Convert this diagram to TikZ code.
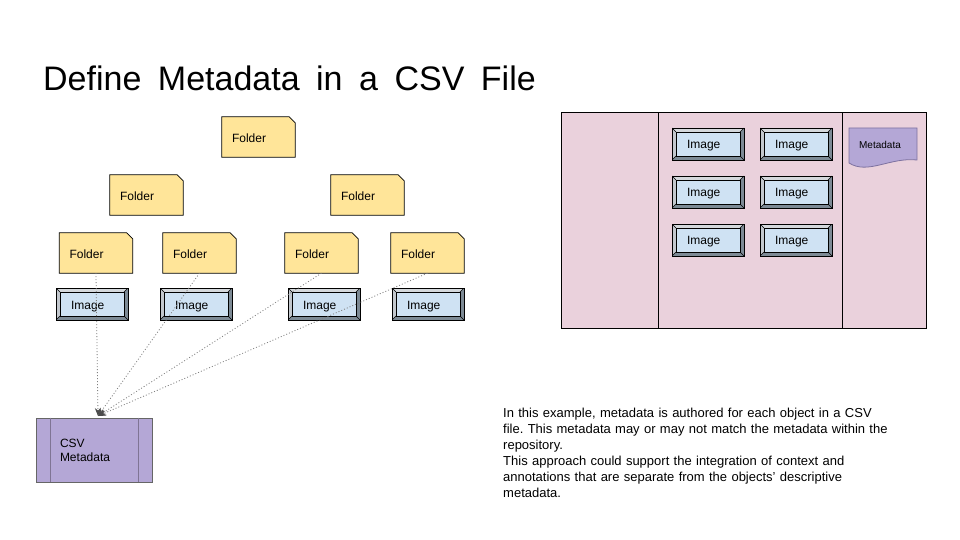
\documentclass[tikz,border=0pt]{standalone}
\usepackage{fontspec}
\setmainfont{Liberation Sans}
\usetikzlibrary{arrows.meta,backgrounds}
\definecolor{folderfill}{HTML}{FFE599}
\definecolor{imgfill}{HTML}{CFE2F3}
\definecolor{bevlight}{HTML}{D4D8DC}
\definecolor{bevdark}{HTML}{7D8A95}
\definecolor{pinkfill}{HTML}{EAD1DC}
\definecolor{purplefill}{HTML}{B4A7D6}
\definecolor{docborder}{HTML}{7E72A0}
\definecolor{csvline}{HTML}{7F7494}
\tikzset{
  txt/.style={font=\fontsize{12}{14}\selectfont, text=black},
  folderbox/.style={txt, rectangle, minimum width=73pt, minimum height=40pt,
    text width=53pt, inner xsep=10pt, inner ysep=0pt, align=left,
    text height=10.4pt, text depth=0pt},
  folderedge/.style={draw=black, line width=0.8pt, fill=folderfill},
  imagebox/.style={txt, rectangle, draw=black, line width=0.9pt, fill=bevdark,
    minimum width=72pt, minimum height=32pt, text width=42pt, inner xsep=15pt,
    inner ysep=0pt, align=left, text height=10pt, text depth=0pt,
    path picture={
      \fill[bevlight] (path picture bounding box.north west) -- (path picture bounding box.north east)
        -- ([xshift=-4pt,yshift=-4pt]path picture bounding box.north east)
        -- ([xshift=4pt,yshift=-4pt]path picture bounding box.north west) -- cycle;
      \fill[bevlight!80!bevdark] (path picture bounding box.north west) -- (path picture bounding box.south west)
        -- ([xshift=4pt,yshift=4pt]path picture bounding box.south west)
        -- ([xshift=4pt,yshift=-4pt]path picture bounding box.north west) -- cycle;
      \draw[line width=0.4pt] (path picture bounding box.north west) -- ([xshift=4pt,yshift=-4pt]path picture bounding box.north west);
      \draw[line width=0.4pt] (path picture bounding box.north east) -- ([xshift=-4pt,yshift=-4pt]path picture bounding box.north east);
      \draw[line width=0.4pt] (path picture bounding box.south west) -- ([xshift=4pt,yshift=4pt]path picture bounding box.south west);
      \draw[line width=0.4pt] (path picture bounding box.south east) -- ([xshift=-4pt,yshift=4pt]path picture bounding box.south east);
      \draw[line width=0.9pt, fill=imgfill] ([xshift=4pt,yshift=-4pt]path picture bounding box.north west)
        rectangle ([xshift=-4pt,yshift=4pt]path picture bounding box.south east);
    }},
  panel/.style={rectangle, draw=black, line width=0.8pt, fill=pinkfill, minimum height=216pt, inner sep=0pt},
  csvbox/.style={txt, rectangle, draw=black!60, line width=0.8pt, fill=purplefill,
    minimum width=116pt, minimum height=64pt, text width=68pt, inner xsep=24pt, align=left},
  dotline/.style={draw=gray, line width=0.8pt, dash pattern=on 1pt off 2pt,
    -{Stealth[length=8pt,width=6pt,color=black!70]}},
}
\begin{document}
\begin{tikzpicture}[x=1pt,y=-1pt]
\useasboundingbox (0,0) rectangle (960,540);

% title
\node[anchor=base west, inner sep=0pt, font=\fontsize{34}{40}\selectfont] (title) at (43,91)
  {\spaceskip=16.5pt\relax Define Metadata in a CSV File};

% folders
\node[folderbox] (f0) at (258.5,137) {Folder};
\node[folderbox] (f1) at (146.5,195) {Folder};
\node[folderbox] (f2) at (367.5,195) {Folder};
\node[folderbox] (f3) at (96,253) {Folder};
\node[folderbox] (f4) at (199.5,253) {Folder};
\node[folderbox] (f5) at (321.5,253) {Folder};
\node[folderbox] (f6) at (427.5,253) {Folder};
\begin{scope}[on background layer]
\foreach \n in {f0,f1,f2,f3,f4,f5,f6}{
  \draw[folderedge] (\n.south west) -- (\n.north west) -- ([xshift=-6pt]\n.north east)
    -- ([yshift=-6pt]\n.north east) -- (\n.south east) -- cycle;
}
\end{scope}

% images (left)
\node[imagebox] (i3) at (92,304) {Image};
\node[imagebox] (i4) at (196,304) {Image};
\node[imagebox] (i5) at (324,304) {Image};
\node[imagebox] (i6) at (428,304) {Image};

% CSV metadata
\node[csvbox] (csv) at (94,450) {CSV\\Metadata};
\draw[csvline, line width=1pt] ([xshift=15pt]csv.north west) -- ([xshift=15pt]csv.south west);
\draw[csvline, line width=1pt] ([xshift=-14pt]csv.north east) -- ([xshift=-14pt]csv.south east);
\coordinate (tgt) at (98,416);

\draw[dotline] (f3.south) -- (tgt);
\draw[dotline] (f4.south) -- (tgt);
\draw[dotline] (f5.south) -- (tgt);
\draw[dotline] (f6.south) -- (tgt);

% right panel
\node[panel, minimum width=97pt] (pa) at (609.5,220) {};
\node[panel, minimum width=184pt] (pb) at (750,220) {};
\node[panel, minimum width=84pt] (pc) at (884,220) {};

\node[imagebox, text height=9pt] (r1) at (708,144) {Image};
\node[imagebox, text height=9pt] (r2) at (796,144) {Image};
\node[imagebox, text height=9pt] (r3) at (708,192) {Image};
\node[imagebox, text height=9pt] (r4) at (796,192) {Image};
\node[imagebox, text height=9pt] (r5) at (708,240) {Image};
\node[imagebox, text height=9pt] (r6) at (796,240) {Image};

\draw[docborder, line width=0.8pt, fill=purplefill] (849,128) -- (917,128) -- (917,160)
  .. controls (890,157) and (868,175) .. (849,163) -- cycle;
\node[font=\fontsize{10}{12}\selectfont, inner sep=0pt] (md) at (880,144.5) {Metadata};

% description
\node[anchor=north west, inner sep=0pt, text width=420pt, align=left,
  font=\fontsize{13}{16}\selectfont] (desc) at (503,407.5)
  {\frenchspacing In this example, metadata is authored for each object in a CSV\\
   file. This metadata may or may not match the metadata within the\\
   repository.\\
   This approach could support the integration of context and\\
   annotations that are separate from the objects’ descriptive\\
   metadata.};
\end{tikzpicture}
\end{document}
